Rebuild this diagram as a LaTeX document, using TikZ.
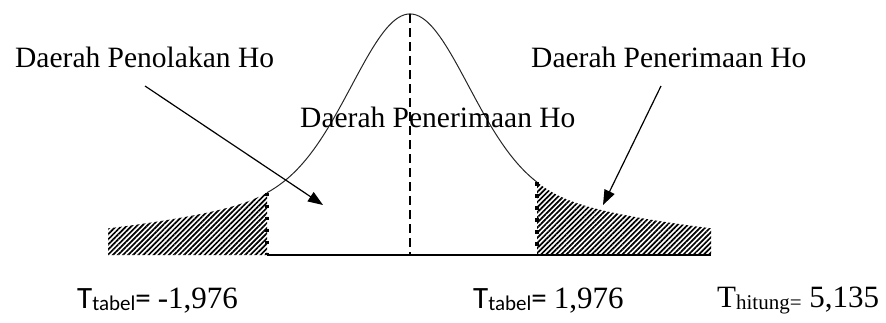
\documentclass[tikz,border=0pt]{standalone}
\usepackage{fontspec}
\setmainfont{Liberation Serif}
\newfontfamily\calib{Carlito}
\usetikzlibrary{arrows.meta,patterns.meta}
\newcommand\lowsub[1]{\raisebox{-2pt}{\fontsize{21}{21}\selectfont #1}}
\begin{document}
\begin{tikzpicture}[x=1pt,y=-1pt,
  declare function={uu(\x)=((\x-410)/100)*((\x-410)/100);
    bell(\x)=255-241*(0.62*exp(-uu(\x)/0.6728)+0.38*exp(-(100*sqrt(uu(\x)+0.16)-40)/214));},
  curve/.style={line width=1pt, black!85},
  hatch/.style={pattern={Lines[angle=45,distance=3.6pt,line width=1.7pt]}},
  dotline/.style={line width=4.2pt, dash pattern=on 3.5pt off 8.5pt},
  baseln/.style={line width=1.4pt},
  centre/.style={line width=1.1pt, dash pattern=on 9pt off 5pt},
  arr/.style={line width=1.2pt, -{Triangle[length=15pt,width=11pt]}},
  lbl/.style={anchor=base west, inner sep=0pt, font=\fontsize{29.5}{30}\selectfont},
  vlbl/.style={anchor=base west, inner sep=0pt, font=\fontsize{31}{32}\selectfont}]
\useasboundingbox (0,0) rectangle (886,322);
% hatched tails
\fill[hatch] (108,255) -- plot[domain=108:267,samples=80] (\x,{bell(\x)}) -- (267,255) -- cycle;
\fill[hatch] (537,255) -- plot[domain=537:711,samples=80] (\x,{bell(\x)}) -- (711,255) -- cycle;
% bell curve
\draw[curve] plot[domain=267:537,samples=271] (\x,{bell(\x)});
% baseline
\coordinate (bl) at (267,255);
\coordinate (br) at (711,255);
\draw[baseln] (bl) -- (br);
% centre line
\coordinate (peak) at (410,{bell(410)});
\coordinate (foot) at (410,255);
\draw[centre] (peak) -- (foot);
% dotted critical lines
\coordinate (ltop) at (267,{bell(267)});
\coordinate (rtop) at (537,{bell(537)});
\coordinate (rbot) at (537,255);
\draw[dotline] (ltop) -- (bl);
\draw[dotline] (rtop) -- (rbot);
% labels
\node[lbl] (tl) at (15,67) {Daerah Penolakan Ho};
\node[lbl] (tr) at (531,67) {Daerah Penerimaan Ho};
\node[lbl] (tc) at (300,127) {Daerah Penerimaan Ho};
% arrows
\coordinate (la0) at (145,86);
\coordinate (la1) at (323,205);
\coordinate (ra0) at (661,86);
\coordinate (ra1) at (603,205);
\draw[arr] (la0) -- (la1);
\draw[arr] (ra0) -- (ra1);
% values
\node[vlbl] (v1) at (77,308) {\calib T\lowsub{tabel}= \rmfamily -1,976};
\node[vlbl] (v2) at (473,308) {\calib T\lowsub{tabel}= \rmfamily 1,976};
\node[vlbl] (v3) at (717,307) {T\lowsub{hitung=} 5,135};
\end{tikzpicture}
\end{document}
